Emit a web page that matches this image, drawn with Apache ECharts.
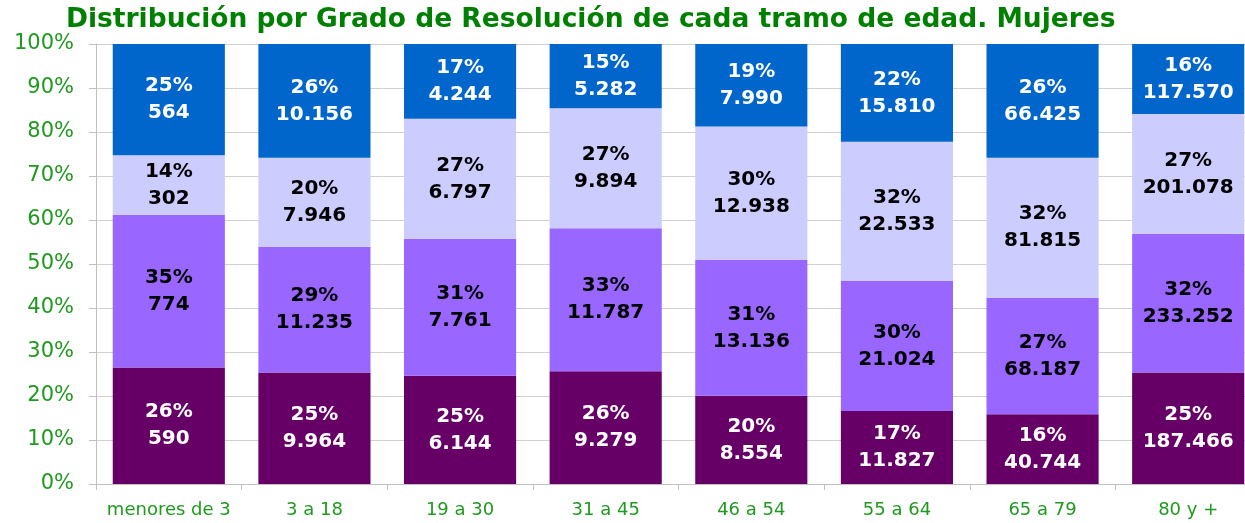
<!DOCTYPE html>
<html>
<head>
<meta charset="utf-8">
<script src="https://cdn.jsdelivr.net/npm/echarts@6/dist/echarts.min.js"></script>
<style>
  html, body { margin: 0; padding: 0; background: #fff; overflow: hidden; }
  #chart { width: 1245px; height: 523px; }
</style>
</head>
<body>
<div id="chart"></div>
<script>
const categories = ['menores de 3', '3 a 18', '19 a 30', '31 a 45', '46 a 54', '55 a 64', '65 a 79', '80 y +']
const grado1 = [590, 9964, 6144, 9279, 8554, 11827, 40744, 187466]
const grado2 = [774, 11235, 7761, 11787, 13136, 21024, 68187, 233252]
const grado3 = [302, 7946, 6797, 9894, 12938, 22533, 81815, 201078]
const grado4 = [564, 10156, 4244, 5282, 7990, 15810, 66425, 117570]
const yTicks = [0, 10, 20, 30, 40, 50, 60, 70, 80, 90, 100]

const totals = categories.map((c, i) => grado1[i] + grado2[i] + grado3[i] + grado4[i])
const fmt = n => String(n).replace(/\B(?=(\d{3})+(?!\d))/g, '.')

function makeSeries (name, counts, color, textColor) {
  return {
    name: name,
    type: 'bar',
    stack: 'total',
    barCategoryGap: '23%',
    data: counts.map((v, i) => ({ value: v / totals[i] * 100, count: v })),
    itemStyle: { color: color },
    label: {
      show: true,
      position: 'inside',
      color: textColor,
      fontFamily: 'DejaVu Sans',
      fontWeight: 'bold',
      fontSize: 20,
      lineHeight: 27,
      formatter: p => Math.round(p.value) + '%\n' + fmt(p.data.count)
    }
  }
}

const chart = echarts.init(document.getElementById('chart'))
chart.setOption({
  animation: false,
  title: {
    text: 'Distribución por Grado de Resolución de cada tramo de edad. Mujeres',
    left: 61,
    top: 2,
    textStyle: { color: '#008000', fontFamily: 'DejaVu Sans', fontWeight: 'bold', fontSize: 26.5 }
  },
  grid: { left: 96, width: 1165, top: 44, bottom: 39, outerBoundsMode: 'none', containLabel: false },
  xAxis: {
    type: 'category',
    data: categories,
    axisLine: { lineStyle: { color: '#c0c0c0', width: 1 } },
    axisTick: { show: true, interval: 0, length: 6, lineStyle: { color: '#c0c0c0' } },
    axisLabel: { interval: 0, color: '#1f9a1f', fontFamily: 'DejaVu Sans', fontSize: 18, margin: 17 }
  },
  yAxis: {
    type: 'value',
    min: 0,
    max: 100,
    interval: 10,
    axisLine: { show: true, lineStyle: { color: '#c0c0c0' } },
    axisTick: { show: true, length: 7, lineStyle: { color: '#c0c0c0' } },
    splitLine: { lineStyle: { color: '#d0d0d0' } },
    axisLabel: {
      color: '#1f9a1f',
      fontFamily: 'DejaVu Sans',
      fontSize: 21,
      margin: 22,
      formatter: v => yTicks.indexOf(v) >= 0 ? v + '%' : ''
    }
  },
  series: [
    makeSeries('Grado 1', grado1, '#660066', '#ffffff'),
    makeSeries('Grado 2', grado2, '#9966ff', '#000000'),
    makeSeries('Grado 3', grado3, '#ccccff', '#000000'),
    makeSeries('Grado 4', grado4, '#0066cc', '#ffffff')
  ]
})
</script>
</body>
</html>
